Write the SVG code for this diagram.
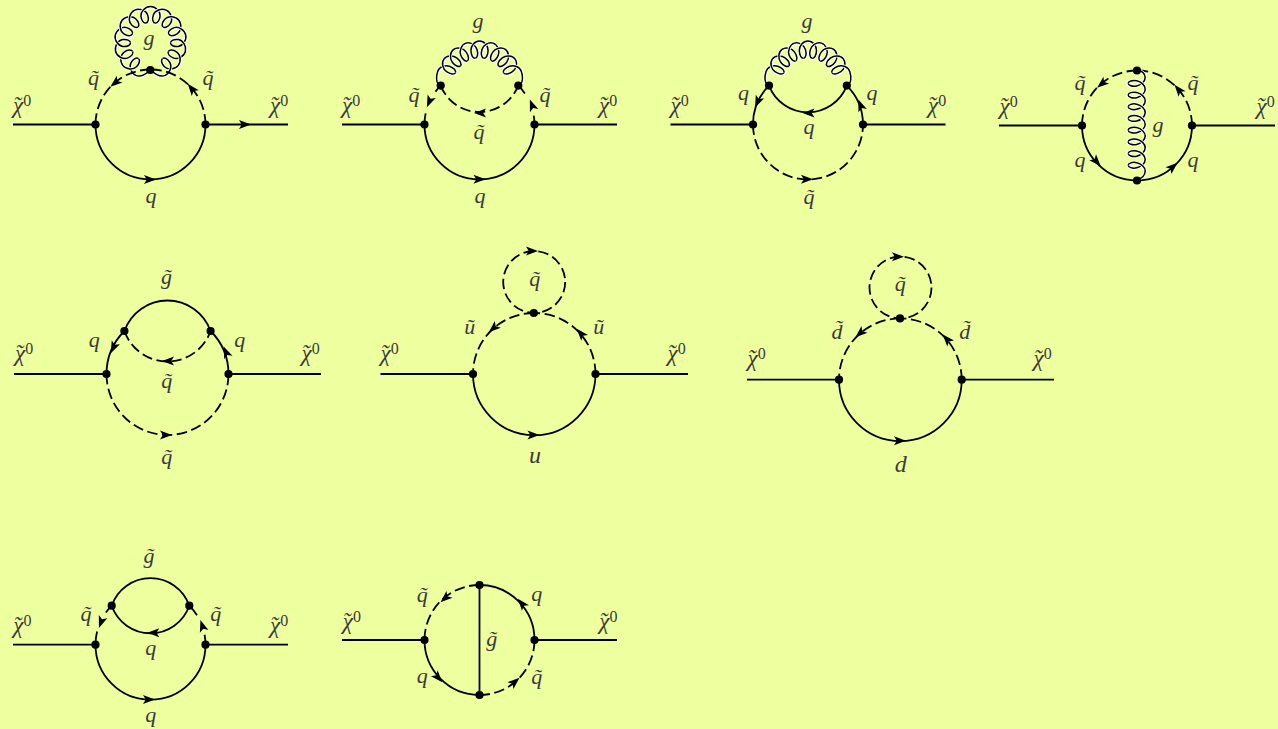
<svg xmlns="http://www.w3.org/2000/svg" width="1278" height="729" viewBox="0 0 1278 729">
<style>
.s{fill:none;stroke:#000;stroke-width:1.8}
.d{fill:none;stroke:#000;stroke-width:1.8;stroke-dasharray:10.5 4.5}
.h{fill:none;stroke:#fff;stroke-width:3.2}
.k{fill:none;stroke:#000;stroke-width:1.5}
.t{font-family:"Liberation Serif",serif;font-style:italic;font-size:22px;fill:#3a3a3a;text-anchor:middle}
.x{font-family:"Liberation Serif",serif;font-style:italic;font-size:23px;fill:#3a3a3a}
.b{font-size:24px}
.o{font-style:normal;font-size:16px}
</style>
<defs>
<path id="a" d="M6 0L-6-4.5L-3.2 0L-6 4.5Z" fill="#000"/>
<circle id="v" r="4.1" fill="#000"/>
<path id="p1" d="M-4.5-19.49C-6.84-18.95-9.14-22.01-9.58-26.31C-10.02-30.61-5.5-36 0-36C5.5-36 10.02-30.61 9.58-26.31C9.14-22.01 6.84-18.95 4.5-19.49"/>
<path id="p1l" d="M-10.98-24.66C-9.5-30-5.5-36 0-36C5.5-36 10.02-30.61 9.58-26.31C9.14-22.01 6.84-18.95 4.5-19.49"/>
<path id="p1r" d="M-4.5-19.49C-6.84-18.95-9.14-22.01-9.58-26.31C-10.02-30.61-5.5-36 0-36C5.5-36 9.5-30 10.98-24.66"/>
<g id="c1"><use href="#p1" class="h"/><use href="#p1" class="k"/></g>
<g id="c1l"><use href="#p1l" class="h"/><use href="#p1l" class="k"/></g>
<g id="c1r"><use href="#p1r" class="h"/><use href="#p1r" class="k"/></g>
<path id="p2" d="M-4.22-26.67C-6.39-26.33-8.51-29.87-8.59-34.44C-8.67-39.01-4.8-44 0-44C4.8-44 8.67-39.01 8.59-34.44C8.51-29.87 6.39-26.33 4.22-26.67"/>
<path id="p2l" d="M-12-36.9C-13-42-5-44 0-44C4.8-44 8.67-39.01 8.59-34.44C8.51-29.87 6.39-26.33 4.22-26.67"/>
<path id="p2r" d="M-4.22-26.67C-6.39-26.33-8.51-29.87-8.59-34.44C-8.67-39.01-4.8-44 0-44C5-44 13-42 12-36.9"/>
<g id="c2"><use href="#p2" class="h"/><use href="#p2" class="k"/></g>
<g id="c2l"><use href="#p2l" class="h"/><use href="#p2l" class="k"/></g>
<g id="c2r"><use href="#p2r" class="h"/><use href="#p2r" class="k"/></g>
<g id="arc2">
<use href="#c2l" transform="rotate(-72)"/><use href="#c2" transform="rotate(-54)"/><use href="#c2" transform="rotate(-36)"/><use href="#c2" transform="rotate(-18)"/><use href="#c2"/><use href="#c2" transform="rotate(18)"/><use href="#c2" transform="rotate(36)"/><use href="#c2" transform="rotate(54)"/><use href="#c2r" transform="rotate(72)"/>
</g>
<path id="p3" d="M-8.5 0C-8.5-1.885-4.45-3.53 0-2.55C4.45-1.57 8.5 2.04 8.5 5.9C8.5 9.76 4.45 13.37 0 14.35C-4.45 15.33-8.5 13.69-8.5 11.8"/>
<path id="p3t" d="M0-13.3C5-13.3 8.5-9.5 8.5-5.8C8.5-2 4.45 1.67 0 2.65C-4.45 3.63-8.5 2-8.5 0"/>
<path id="p3b" d="M-8.5 0C-8.5-1.885-4.45-3.53 0-2.55C4.45-1.57 8.5 2.04 8.5 5.9C8.5 10 5 14 0 14"/>
<g id="c3"><use href="#p3" class="h"/><use href="#p3" class="k"/></g>
<g id="c3t"><use href="#p3t" class="h"/><use href="#p3t" class="k"/></g>
<g id="c3b"><use href="#p3b" class="h"/><use href="#p3b" class="k"/></g>
</defs>
<rect width="1278" height="729" fill="#eeffa0"/>

<g id="diagram1">
<g id="d1-connectors">
<path class="s" d="M13 124.5H95.5M205.5 124.5H288M95.5 124.5A55 55 0 0 0 205.5 124.5"/>
<g transform="translate(150.5 42.5)">
<use href="#c1l" transform="rotate(-156)"/><use href="#c1" transform="rotate(-130)"/><use href="#c1" transform="rotate(-104)"/><use href="#c1" transform="rotate(-78)"/><use href="#c1" transform="rotate(-52)"/><use href="#c1" transform="rotate(-26)"/><use href="#c1"/><use href="#c1" transform="rotate(26)"/><use href="#c1" transform="rotate(52)"/><use href="#c1" transform="rotate(78)"/><use href="#c1" transform="rotate(104)"/><use href="#c1" transform="rotate(130)"/><use href="#c1r" transform="rotate(156)"/>
</g>
<path class="d" d="M150.5 69.5A55 55 0 0 0 95.5 124.5M205.5 124.5A55 55 0 0 0 150.5 69.5"/>
<use href="#a" transform="translate(150 179.5)"/><use href="#a" transform="translate(245 124.5)"/>
<use href="#a" transform="translate(115 83) rotate(140)"/><use href="#a" transform="translate(191.5 88.5) rotate(231)"/>
</g>
<g id="d1-v1"><use href="#v" x="95.5" y="124.5"/></g><g id="d1-v2"><use href="#v" x="205.5" y="124.5"/></g><g id="d1-v3"><use href="#v" x="150.3" y="70"/></g>
<text class="x" x="13" y="112.5">χ<tspan dx="-10">˜</tspan><tspan class="o" dx="2.5" dy="-6.5">0</tspan></text>
<text class="x" x="270" y="112.5">χ<tspan dx="-10">˜</tspan><tspan class="o" dx="2.5" dy="-6.5">0</tspan></text>
<text class="t" x="93.5" y="84.5">q̃</text><text class="t" x="208" y="84.5">q̃</text><text class="t" x="149" y="45">g</text><text class="t" x="151" y="202.5">q</text>
</g>

<g id="diagram2">
<g id="d2-connectors">
<path class="s" d="M342 124.5H424.5M534.5 124.5H617M424.5 124.5A55 55 0 0 0 534.5 124.5"/>
<path class="s" style="stroke-dasharray:8 24 13" d="M440.7 85.6A55 55 0 0 0 424.5 124.5"/>
<path class="s" style="stroke-dasharray:9 24 10" d="M534.5 124.5A55 55 0 0 0 518.3 85.6"/>
<path class="d" d="M440.7 85.6A41.7 41.7 0 0 0 518.3 85.6"/>
<use href="#arc2" transform="translate(479.5 85)"/>
<use href="#a" transform="translate(479.5 179.3)"/>
<use href="#a" transform="translate(480 113) rotate(180)"/>
<use href="#a" transform="translate(429.3 101.7) rotate(114)"/><use href="#a" transform="translate(532 105) rotate(249)"/>
</g>
<g id="d2-v1"><use href="#v" x="424.5" y="124.5"/></g><g id="d2-v2"><use href="#v" x="534.5" y="124.5"/></g><g id="d2-v3"><use href="#v" x="440.7" y="85.6"/></g><g id="d2-v4"><use href="#v" x="518.3" y="85.6"/></g>
<text class="x" x="342" y="112.5">χ<tspan dx="-10">˜</tspan><tspan class="o" dx="2.5" dy="-6.5">0</tspan></text>
<text class="x" x="599" y="112.5">χ<tspan dx="-10">˜</tspan><tspan class="o" dx="2.5" dy="-6.5">0</tspan></text>
<text class="t" x="414" y="101.5">q̃</text><text class="t" x="545" y="101.5">q̃</text><text class="t" x="479" y="138.5">q̃</text><text class="t" x="480" y="202.5">q</text><text class="t" x="478" y="28">g</text>
</g>

<g id="diagram3">
<g id="d3-connectors">
<path class="s" d="M670.5 124.5H753M863 124.5H945.5M769 85.6A55 55 0 0 0 753 124.5M863 124.5A55 55 0 0 0 846.8 85.6M769 85.6A41.7 41.7 0 0 0 846.8 85.6"/>
<path class="d" d="M753 124.5A55 55 0 0 0 863 124.5"/>
<use href="#arc2" transform="translate(807.9 85)"/>
<use href="#a" transform="translate(807 179.3)"/>
<use href="#a" transform="translate(808.5 113) rotate(180)"/>
<use href="#a" transform="translate(757.5 102) rotate(114)"/><use href="#a" transform="translate(860.5 105) rotate(249)"/>
</g>
<g id="d3-v1"><use href="#v" x="753" y="124.5"/></g><g id="d3-v2"><use href="#v" x="863" y="124.5"/></g><g id="d3-v3"><use href="#v" x="769" y="85.6"/></g><g id="d3-v4"><use href="#v" x="846.8" y="85.6"/></g>
<text class="x" x="670.5" y="112.5">χ<tspan dx="-10">˜</tspan><tspan class="o" dx="2.5" dy="-6.5">0</tspan></text>
<text class="x" x="928" y="112.5">χ<tspan dx="-10">˜</tspan><tspan class="o" dx="2.5" dy="-6.5">0</tspan></text>
<text class="t" x="743.5" y="99.5">q</text><text class="t" x="872" y="99.5">q</text><text class="t" x="809" y="133.5">q</text><text class="t" x="809" y="203.5">q̃</text><text class="t" x="807" y="28">g</text>
</g>

<g id="diagram4">
<g id="d4-connectors">
<path class="s" d="M999 125.5H1082M1192 125.5H1275M1082 125.5A55 55 0 0 0 1137 180.5A55 55 0 0 0 1192 125.5"/>
<path class="d" d="M1137 70.5A55 55 0 0 0 1082 125.5M1192 125.5A55 55 0 0 0 1137 70.5"/>
<g transform="translate(1136.7 0)">
<use href="#c3t" y="83.3"/><use href="#c3" y="83.3"/><use href="#c3" y="95"/><use href="#c3" y="106.7"/><use href="#c3" y="118.4"/><use href="#c3" y="130.1"/><use href="#c3" y="141.8"/><use href="#c3" y="153.5"/><use href="#c3b" y="165.2"/>
</g>
<use href="#a" transform="translate(1101.7 84) rotate(140)"/><use href="#a" transform="translate(1178.3 89.3) rotate(231)"/>
<use href="#a" transform="translate(1096.7 161.7) rotate(48)"/><use href="#a" transform="translate(1173 166.7) rotate(-41)"/>
</g>
<g id="d4-v1"><use href="#v" x="1082" y="125.5"/></g><g id="d4-v2"><use href="#v" x="1192" y="125.5"/></g><g id="d4-v3"><use href="#v" x="1137" y="70.5"/></g><g id="d4-v4"><use href="#v" x="1137" y="180.5"/></g>
<text class="x" x="999.5" y="113.5">χ<tspan dx="-10">˜</tspan><tspan class="o" dx="2.5" dy="-6.5">0</tspan></text>
<text class="x" x="1256.5" y="113.5">χ<tspan dx="-10">˜</tspan><tspan class="o" dx="2.5" dy="-6.5">0</tspan></text>
<text class="t" x="1080" y="90">q̃</text><text class="t" x="1193" y="90">q̃</text><text class="t" x="1080" y="167">q</text><text class="t" x="1193" y="167">q</text><text class="t" x="1158" y="132">g</text>
</g>

<g id="diagram5">
<g id="d5-connectors">
<path class="s" d="M14 374H106.5M228.5 374H321M124.4 331A61 61 0 0 0 106.5 374M228.5 374A61 61 0 0 0 210.6 331M124.4 331A45.7 45.7 0 0 1 210.6 331"/>
<path class="d" d="M124.4 331A45.7 45.7 0 0 0 210.6 331"/>
<path class="d" d="M106.5 374A61 61 0 0 0 228.5 374"/>
<use href="#a" transform="translate(168 361) rotate(180)"/><use href="#a" transform="translate(166 435)"/>
<use href="#a" transform="translate(113.3 347.7) rotate(115)"/><use href="#a" transform="translate(226 352) rotate(247)"/>
</g>
<g id="d5-v1"><use href="#v" x="106.5" y="374"/></g><g id="d5-v2"><use href="#v" x="228.5" y="374"/></g><g id="d5-v3"><use href="#v" x="124.4" y="331"/></g><g id="d5-v4"><use href="#v" x="210.6" y="331"/></g>
<text class="x" x="15" y="360.5">χ<tspan dx="-10">˜</tspan><tspan class="o" dx="2.5" dy="-6.5">0</tspan></text>
<text class="x" x="301.5" y="360.5">χ<tspan dx="-10">˜</tspan><tspan class="o" dx="2.5" dy="-6.5">0</tspan></text>
<text class="t" x="94.3" y="347">q</text><text class="t" x="239.7" y="347">q</text><text class="t" x="166.5" y="284">g̃</text><text class="t" x="166.7" y="388">q̃</text><text class="t" x="166.7" y="463.5">q̃</text>
</g>

<g id="diagram6">
<g id="d6-connectors">
<path class="s" d="M380.5 374H473M595.5 374H688M473 374A61 61 0 0 0 595.5 374"/>
<path class="d" d="M534.2 313A61 61 0 0 0 473 374M595.5 374A61 61 0 0 0 534.2 313"/>
<circle class="d" cx="534.2" cy="282" r="31"/>
<use href="#a" transform="translate(532 251)"/><use href="#a" transform="translate(533.5 435)"/>
<use href="#a" transform="translate(493.3 328.3) rotate(138)"/><use href="#a" transform="translate(580.7 333.3) rotate(229)"/>
</g>
<g id="d6-v1"><use href="#v" x="473" y="374"/></g><g id="d6-v2"><use href="#v" x="595.5" y="374"/></g><g id="d6-v3"><use href="#v" x="533.8" y="313"/></g>
<text class="x" x="380.5" y="360.5">χ<tspan dx="-10">˜</tspan><tspan class="o" dx="2.5" dy="-6.5">0</tspan></text>
<text class="x" x="667.5" y="360.5">χ<tspan dx="-10">˜</tspan><tspan class="o" dx="2.5" dy="-6.5">0</tspan></text>
<text class="t" x="534.7" y="285.5">q̃</text><text class="t" x="469.7" y="334">ũ</text><text class="t" x="598.7" y="334">ũ</text><text class="t b" x="535" y="462.7">u</text>
</g>

<g id="diagram7">
<g id="d7-connectors">
<path class="s" d="M747 379.7H839M961.7 379.7H1054M839 379.7A61.3 61.3 0 0 0 961.7 379.7"/>
<path class="d" d="M900.3 318.4A61.3 61.3 0 0 0 839 379.7M961.7 379.7A61.3 61.3 0 0 0 900.3 318.4"/>
<circle class="d" cx="900.5" cy="287.5" r="31"/>
<use href="#a" transform="translate(898 256.8)"/><use href="#a" transform="translate(900 440.8)"/>
<use href="#a" transform="translate(860 333.3) rotate(138)"/><use href="#a" transform="translate(946.7 339) rotate(229)"/>
</g>
<g id="d7-v1"><use href="#v" x="839" y="379.7"/></g><g id="d7-v2"><use href="#v" x="961.7" y="379.7"/></g><g id="d7-v3"><use href="#v" x="900" y="318.4"/></g>
<text class="x" x="747.5" y="365.5">χ<tspan dx="-10">˜</tspan><tspan class="o" dx="2.5" dy="-6.5">0</tspan></text>
<text class="x" x="1033.5" y="365.5">χ<tspan dx="-10">˜</tspan><tspan class="o" dx="2.5" dy="-6.5">0</tspan></text>
<text class="t" x="900.3" y="291">q̃</text><text class="t" x="837" y="339">d̃</text><text class="t" x="964.7" y="339">d̃</text><text class="t b" x="900.7" y="471.7">d</text>
</g>

<g id="diagram8">
<g id="d8-connectors">
<path class="s" d="M13 644.7H95.5M205.5 644.7H288M95.5 644.7A55 55 0 0 0 205.5 644.7M111.7 605.7A41.1 41.1 0 0 1 189.3 605.7M111.7 605.7A41.1 41.1 0 0 0 189.3 605.7"/>
<path class="s" style="stroke-dasharray:9 21 13" d="M111.7 605.7A55 55 0 0 0 95.5 644.7"/>
<path class="s" style="stroke-dasharray:10 21 12" d="M205.5 644.7A55 55 0 0 0 189.3 605.7"/>
<use href="#a" transform="translate(149 699.5)"/><use href="#a" transform="translate(153.3 632.7) rotate(180)"/>
<use href="#a" transform="translate(101 622.3) rotate(110)"/><use href="#a" transform="translate(202.3 625.7) rotate(252)"/>
</g>
<g id="d8-v1"><use href="#v" x="95.5" y="644.7"/></g><g id="d8-v2"><use href="#v" x="205.5" y="644.7"/></g><g id="d8-v3"><use href="#v" x="111.7" y="605.7"/></g><g id="d8-v4"><use href="#v" x="189.3" y="605.7"/></g>
<text class="x" x="13.3" y="632.5">χ<tspan dx="-10">˜</tspan><tspan class="o" dx="2.5" dy="-6.5">0</tspan></text>
<text class="x" x="270" y="632.5">χ<tspan dx="-10">˜</tspan><tspan class="o" dx="2.5" dy="-6.5">0</tspan></text>
<text class="t" x="86" y="620.5">q̃</text><text class="t" x="215.7" y="620.5">q̃</text><text class="t" x="149" y="562.5">g̃</text><text class="t" x="150.8" y="654.5">q</text><text class="t" x="150.8" y="722">q</text>
</g>

<g id="diagram9">
<g id="d9-connectors">
<path class="s" d="M342 640H424.5M534.5 640H617M479.5 585V695M424.5 640A55 55 0 0 0 479.5 695M534.5 640A55 55 0 0 0 479.5 585"/>
<path class="d" d="M479.5 585A55 55 0 0 0 424.5 640M479.5 695A55 55 0 0 0 534.5 640"/>
<use href="#a" transform="translate(445 598.3) rotate(138)"/><use href="#a" transform="translate(521.7 603.3) rotate(231)"/>
<use href="#a" transform="translate(438.3 677.7) rotate(48)"/><use href="#a" transform="translate(515 681.7) rotate(-41)"/>
</g>
<g id="d9-v1"><use href="#v" x="424.5" y="640"/></g><g id="d9-v2"><use href="#v" x="534.5" y="640"/></g><g id="d9-v3"><use href="#v" x="479.5" y="585"/></g><g id="d9-v4"><use href="#v" x="479.5" y="695"/></g>
<text class="x" x="342.7" y="628.5">χ<tspan dx="-10">˜</tspan><tspan class="o" dx="2.5" dy="-6.5">0</tspan></text>
<text class="x" x="599.3" y="628.5">χ<tspan dx="-10">˜</tspan><tspan class="o" dx="2.5" dy="-6.5">0</tspan></text>
<text class="t" x="422.3" y="602">q̃</text><text class="t" x="536.7" y="600.5">q</text><text class="t" x="422.3" y="683">q</text><text class="t" x="536.7" y="683.5">q̃</text><text class="t" x="491.7" y="645.5">g̃</text>
</g>
</svg>
